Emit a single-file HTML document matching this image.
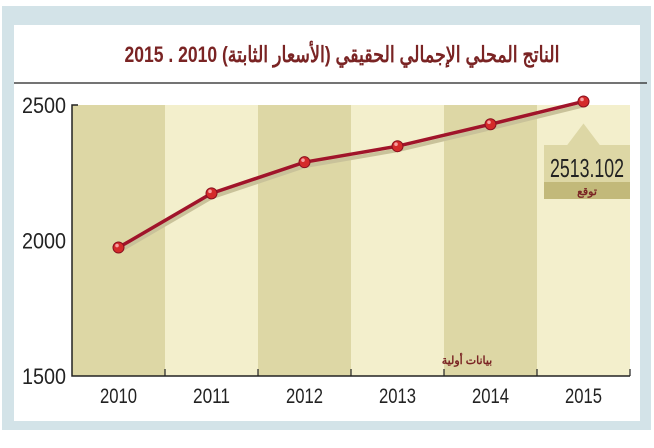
<!DOCTYPE html>
<html><head><meta charset="utf-8"><style>
body{margin:0;width:654px;height:443px;background:#fff;overflow:hidden;font-family:"Liberation Sans","Noto Sans CJK SC",sans-serif}
</style></head><body>
<svg width="654" height="443">
<rect x="2" y="6" width="649" height="424" fill="#d3e3e8"/>
<rect x="14" y="25" width="626" height="396" fill="#fff"/>
<text x="342" y="62" text-anchor="middle" font-size="22" font-weight="bold" fill="#7a2424" textLength="435" lengthAdjust="spacingAndGlyphs">الناتج المحلي الإجمالي الحقيقي (الأسعار الثابتة)  2010 . 2015</text>
<line x1="14" y1="83" x2="647" y2="83" stroke="#222" stroke-width="1.2"/>
<g id="bands"></g><g id="axes"></g><g id="series"></g>
<g>
<polygon id="ptr" fill="#ddd7a5"/>
<rect x="544" y="145" width="86" height="37" fill="#ddd7a5"/>
<rect x="544" y="182" width="86" height="17" fill="#c2b97a"/>
<text id="fval" x="587" y="177" text-anchor="middle" font-size="26" fill="#222" textLength="74" lengthAdjust="spacingAndGlyphs"></text>
<text x="587" y="195" text-anchor="middle" font-size="11" font-weight="bold" fill="#7a2424">توقع</text>
</g>
<text x="467" y="364" text-anchor="middle" font-size="11" font-weight="bold" fill="#7a2424">بيانات أولية</text>
</svg>
<script>
const categories=["2010","2011","2012","2013","2014","2015"];
const values=[1974,2174,2289,2348,2429,2513.102];
const yTicks=[1500,2000,2500];
const NS="http://www.w3.org/2000/svg";
const x0=72,bw=93,yb=376,yt=105,vmin=1500,vmax=2500;
const X=i=>x0+bw*(i+0.5), Y=v=>yb-(v-vmin)/(vmax-vmin)*(yb-yt);
function mk(t,a,p){const e=document.createElementNS(NS,t);for(const k in a)e.setAttribute(k,a[k]);p.appendChild(e);return e;}
const B=document.getElementById('bands'),A=document.getElementById('axes'),S=document.getElementById('series');
categories.forEach((c,i)=>{
 const r=mk('rect',{x:x0+bw*i,y:yt,width:bw,height:yb-yt,fill:i%2?'#f3efcc':'#ddd7a5'},B);
 
 
 const t=mk('text',{x:X(i),y:403,'text-anchor':'middle','font-size':21,fill:'#222',textLength:37,lengthAdjust:'spacingAndGlyphs'},A);t.textContent=c;
 
 
 const tk=mk('line',{x1:x0+bw*(i+1),y1:yb,x2:x0+bw*(i+1),y2:yb-7,stroke:'#222','stroke-width':1.2},A);
 
 
});
const ax=mk('path',{d:`M${x0+6},${yt} H${x0} V${yb} H${x0+bw*6}`,fill:'none',stroke:'#222','stroke-width':1.5},A);


yTicks.forEach(v=>{const t=mk('text',{x:66,y:Y(v)+8,'text-anchor':'end','font-size':22,fill:'#222',textLength:44,lengthAdjust:'spacingAndGlyphs'},A);t.textContent=v;
 
 });
const pts=values.map((v,i)=>X(i)+','+Y(v)).join(' ');
const sh=mk('polyline',{points:values.map((v,i)=>X(i)+','+(Y(v)+4)).join(' '),fill:'none',stroke:'#c9c29a','stroke-width':4},S);


const ln=mk('polyline',{points:pts,fill:'none',stroke:'#a0142a','stroke-width':3.5},S);


values.forEach((v,i)=>{const c=mk('circle',{cx:X(i),cy:Y(v),r:5.5,fill:'#d42a2a',stroke:'#8a1020','stroke-width':1},S);
 
 
 const h=mk('circle',{cx:X(i)-1.5,cy:Y(v)-2,r:1.8,fill:'#f6a0a0'},S);
 
 });
const li=values.length-1;
document.getElementById('ptr').setAttribute('points',`${X(li)},${Y(values[li])+22} ${X(li)-17},146 ${X(li)+17},146`);
document.getElementById('fval').textContent=values[li].toFixed(3);
</script>
</body></html>
